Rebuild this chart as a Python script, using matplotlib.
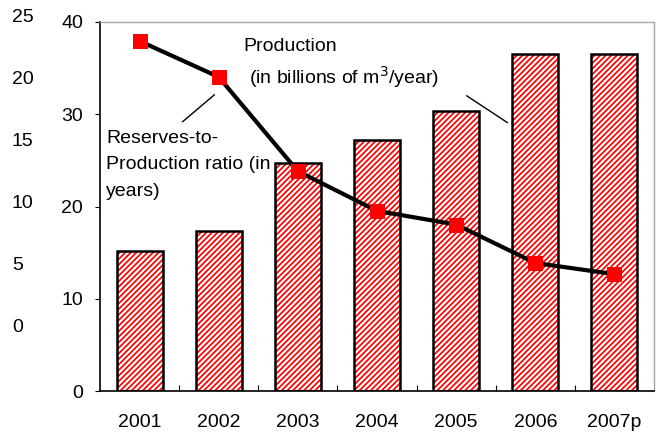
import matplotlib
matplotlib.use("Agg")
import matplotlib.pyplot as plt
import numpy as np

plt.rcParams['font.family'] = ['Liberation Sans', 'DejaVu Sans']
plt.rcParams['hatch.linewidth'] = 1.25

# gas production and reserves-to-production ratio
years = ["2001", "2002", "2003", "2004", "2005", "2006", "2007p"]
production = [15.2, 17.3, 24.7, 27.2, 30.3, 36.5, 36.5]   # billions of m3 / year
rp_ratio = [22.9, 20.0, 12.4, 9.2, 8.1, 5.0, 4.1]          # years

W, H = 658, 437
fig = plt.figure(figsize=(W / 100, H / 100), dpi=100)
fig.patch.set_facecolor("white")

# main axes: production bars (0-40)
ax = fig.add_axes([100 / W, (H - 391) / H, 554 / W, 369 / H])
x = np.arange(len(years))
ax.bar(x, production, width=0.58, color="white", edgecolor="red",
       hatch="//////", linewidth=0, zorder=2)
ax.bar(x, production, width=0.58, fill=False, edgecolor="black",
       linewidth=1.8, zorder=3)

ax.set_xlim(-0.5, len(years) - 0.5)
ax.set_ylim(0, 40)
ax.set_yticks([0, 10, 20, 30, 40])
ax.set_xticks(x)
ax.set_xticklabels(years)
ax.set_xticks(np.arange(0.5, len(years) - 1), minor=True)
ax.tick_params(axis="x", which="major", length=0, pad=16.5, labelsize=14)
ax.tick_params(axis="x", which="minor", direction="in", length=4.5,
               width=0.8, color="black")
ax.tick_params(axis="y", direction="out", length=3.6, width=0.8,
               pad=8.6, labelsize=14)

for side in ("left", "bottom"):
    ax.spines[side].set_color("black")
    ax.spines[side].set_linewidth(1.2)
for side in ("top", "right"):
    ax.spines[side].set_color("#a6a6a6")
    ax.spines[side].set_linewidth(1.0)

# labels and leader lines
ax.text(1.307, 37.3, "Production", fontsize=14, ha="left", va="center")
ax.text(1.383, 34.0, "(in billions of m$^3$/year)", fontsize=14,
        ha="left", va="center")
ax.plot([4.134, 4.647], [32.0, 29.1], color="black", lw=1.0)

ax.text(-0.424, 27.4, "Reserves-to-", fontsize=14, ha="left", va="center", zorder=1)
ax.text(-0.424, 24.6, "Production ratio (in", fontsize=14, ha="left",
        va="center", zorder=1)
ax.text(-0.424, 21.6, "years)", fontsize=14, ha="left", va="center", zorder=1)
ax.plot([0.944, 0.545], [32.1, 29.2], color="black", lw=1.0)

# secondary scale: reserves-to-production ratio (0-25)
ax2 = fig.add_axes([100 / W, (H - 325) / H, 554 / W, 310 / H])
ax2.patch.set_visible(False)
for s in ax2.spines.values():
    s.set_visible(False)
ax2.plot(x, rp_ratio, color="black", lw=3.0, marker="s", markersize=10.8,
         markerfacecolor="red", markeredgewidth=0, zorder=5)
ax2.set_xlim(-0.5, len(years) - 0.5)
ax2.set_ylim(0, 25)
ax2.set_xticks([])
ax2.set_yticks([0, 5, 10, 15, 20, 25])
ax2.tick_params(axis="y", length=0, pad=63.4, labelsize=14)
for lab in ax2.get_yticklabels():
    lab.set_horizontalalignment("left")

fig.savefig("out.png", dpi=100)
